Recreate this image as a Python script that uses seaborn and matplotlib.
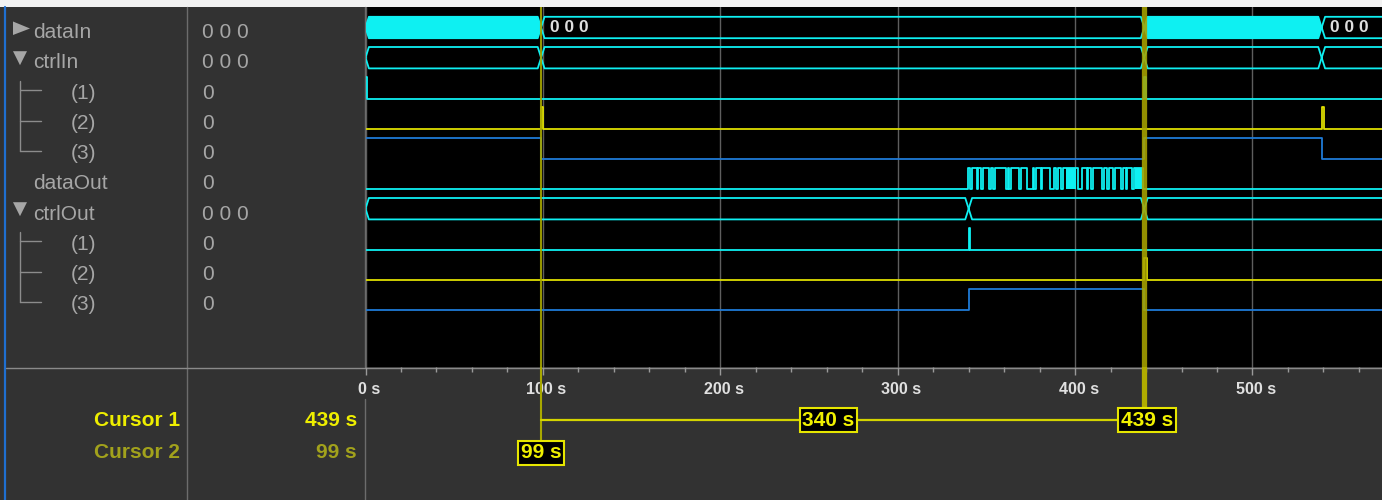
import seaborn as sns
import matplotlib.pyplot as plt
from matplotlib.patches import Rectangle, Polygon
from matplotlib.ticker import MultipleLocator

# signal list shown in the left panel
signal_names = ['dataIn', 'ctrlIn', '(1)', '(2)', '(3)',
                'dataOut', 'ctrlOut', '(1)', '(2)', '(3)']
signal_values = ['0 0 0', '0 0 0', '0', '0', '0', '0', '0 0 0', '0', '0', '0']
signal_depth = [0, 0, 1, 1, 1, 0, 0, 1, 1, 1]
signal_toggle = ['closed', 'open', '', '', '', '', 'open', '', '', '']

# time axis (seconds)
time_ticks = [0, 100, 200, 300, 400, 500]
time_end = 573

# waveforms
dataIn_changes = [0, 99, 439, 539]
dataIn_dense = [True, False, True, False]
dataIn_text = ['', '0 0 0', '', '0 0 0']

ctrlIn_changes = [0, 99, 439, 539]
ctrlIn1_pulses = [0, 439]
ctrlIn2_pulses = [99, 539]
ctrlIn3_times = [0, 99, 439, 539]
ctrlIn3_levels = [1, 0, 1, 0]

dataOut_high = [(339.5, 341.0), (342.0, 344.5), (345.5, 347.0), (348.0, 351.5),
                (352.5, 354.0), (355.0, 361.0), (362.0, 363.0), (364.0, 368.5),
                (369.5, 373.0), (376.0, 377.0), (378.0, 380.5), (381.5, 386.0),
                (388.0, 389.5), (390.5, 392.0), (393.0, 401.5), (404.0, 406.5),
                (407.5, 409.0), (410.0, 415.0), (416.5, 418.0), (419.0, 421.5),
                (422.5, 426.0), (427.0, 428.5), (429.5, 432.0), (433.0, 438.5)]
dataOut_dense = [(395.0, 400.5), (434.0, 437.5)]

ctrlOut_changes = [0, 340, 439]
ctrlOut1_pulses = [340]
ctrlOut2_pulses = [439]
ctrlOut3_times = [0, 340, 439]
ctrlOut3_levels = [0, 1, 0]

cursor1 = 439
cursor2 = 99

# ---------------------------------------------------------------
W, H = 1382, 500
X0, TOP, BOT = 365.5, 7, 367
HALF = 10.7
CYAN, YELLOW, BLUE = '#0ef0f2', '#dede00', '#1f7ad6'
GREY_TXT = '#a6a6a6'
BG = '#323232'

sns.set_style('dark')
plt.rcParams['font.family'] = ['Liberation Sans', 'DejaVu Sans']

row_y = [30 + 30.2 * i for i in range(len(signal_names))]


def frac(x0, y0, x1, y1):
    return [x0 / W, 1 - y1 / H, (x1 - x0) / W, (y1 - y0) / H]


fig = plt.figure(figsize=(W / 100, H / 100), dpi=100, facecolor=BG)

# chrome / left panel in pixel coordinates
bg = fig.add_axes([0, 0, 1, 1])
bg.set_xlim(0, W)
bg.set_ylim(H, 0)
bg.axis('off')
bg.add_patch(Rectangle((0, 0), W, 6.5, color='#f2f2f2', lw=0))
bg.plot([5.5, 5.5], [6.5, H], color='#1f6fd0', lw=1.6)
bg.plot([187, 187], [6.5, H], color='#6c6c6c', lw=1)
bg.plot([365, 365], [6.5, BOT], color='#6c6c6c', lw=1)
bg.plot([365, 365], [399, H], color='#6c6c6c', lw=1)
bg.plot([6, W], [368, 368], color='#8a8a8a', lw=1)

for i, (name, val) in enumerate(zip(signal_names, signal_values)):
    yb = row_y[i] + 8.3
    x = 33 if signal_depth[i] == 0 else 71
    bg.text(x, yb, name, fontsize=15, color=GREY_TXT, va='baseline')
    bg.text(202, yb, val, fontsize=15, color=GREY_TXT, va='baseline')
    yc = row_y[i] - 1.5
    if signal_toggle[i] == 'closed':
        bg.add_patch(Polygon([(13, yc - 7), (13, yc + 6.5), (30, yc)], color=GREY_TXT, lw=0))
    elif signal_toggle[i] == 'open':
        bg.add_patch(Polygon([(13, yc - 7.5), (27, yc - 7.5), (20, yc + 6.5)], color=GREY_TXT, lw=0))

# tree connectors for bus children
for parent in [i for i, t in enumerate(signal_toggle) if t == 'open']:
    kids = [j for j in range(parent + 1, len(signal_names)) if signal_depth[j] == 1]
    kids = [j for j in kids if all(signal_depth[k] == 1 for k in range(parent + 1, j + 1))]
    bg.plot([20, 20], [row_y[parent] + 21, row_y[kids[-1]]], color='#8c8c8c', lw=1)
    for j in kids:
        bg.plot([20, 41], [row_y[j], row_y[j]], color='#8c8c8c', lw=1)

bg.text(180, 420, 'Cursor 1', fontsize=15, fontweight='bold', color='#eeee00',
        ha='right', va='center')
bg.text(357, 420, f'{cursor1} s', fontsize=15, fontweight='bold', color='#eeee00',
        ha='right', va='center')
bg.text(180, 452, 'Cursor 2', fontsize=15, fontweight='bold', color='#a2a21c',
        ha='right', va='center')
bg.text(357, 452, f'{cursor2} s', fontsize=15, fontweight='bold', color='#a2a21c',
        ha='right', va='center')

# waveform area
ax = fig.add_axes(frac(X0, TOP, W, BOT))
ax.set_facecolor('black')
for s in ax.spines.values():
    s.set_visible(False)

d = 3.4 / ((W - X0) / time_end)  # half width of a bus crossing, in seconds


def draw_bus(row, changes, color, dense=None, texts=None):
    mid = row_y[row] - 2.5
    edges = list(changes) + [time_end + 10]
    for k in range(len(changes)):
        a, b = edges[k], edges[k + 1]
        xs = [a, a + d, b - d, b, b - d, a + d, a]
        ys = [mid, mid - HALF, mid - HALF, mid, mid + HALF, mid + HALF, mid]
        if dense is not None and dense[k]:
            ax.fill(xs, ys, color=color, lw=0, zorder=2)
        sns.lineplot(x=xs, y=ys, sort=False, estimator=None, color=color,
                     lw=1.3, ax=ax, zorder=2)
        if texts is not None and texts[k]:
            ax.text(a + 4.8, mid + 0.5, texts[k], fontsize=12.5, fontweight='bold',
                    color='#dedede', va='center', ha='left', zorder=4)


def draw_steps(row, times, levels, color):
    mid = row_y[row] - 2.5
    xs = list(times) + [time_end + 10]
    ys = [mid + HALF - 2 * HALF * lv for lv in levels]
    ys = ys + [ys[-1]]
    sns.lineplot(x=xs, y=ys, sort=False, estimator=None, color=color, lw=1.3,
                 drawstyle='steps-post', ax=ax, zorder=2)


def pulses_to_steps(pulses, width=1.0):
    times, levels = [], []
    if pulses[0] > 0:
        times, levels = [0], [0]
    for p in pulses:
        times += [p, p + width]
        levels += [1, 0]
    return times, levels


draw_bus(0, dataIn_changes, CYAN, dataIn_dense, dataIn_text)
draw_bus(1, ctrlIn_changes, CYAN)
draw_steps(2, *pulses_to_steps(ctrlIn1_pulses), CYAN)
draw_steps(3, *pulses_to_steps(ctrlIn2_pulses, 1.3), YELLOW)
draw_steps(4, ctrlIn3_times, ctrlIn3_levels, BLUE)

out_times, out_levels = [0], [0]
for a, b in dataOut_high:
    out_times += [a, b]
    out_levels += [1, 0]
draw_steps(5, out_times, out_levels, CYAN)
mid5 = row_y[5] - 2.5
for a, b in dataOut_dense:
    ax.fill_between([a, b], mid5 - HALF, mid5 + HALF, color=CYAN, lw=0, zorder=2)

draw_bus(6, ctrlOut_changes, CYAN)
draw_steps(7, *pulses_to_steps(ctrlOut1_pulses), CYAN)
draw_steps(8, *pulses_to_steps(ctrlOut2_pulses, 1.3), YELLOW)
draw_steps(9, ctrlOut3_times, ctrlOut3_levels, BLUE)

ax.set_xticks(time_ticks)
ax.tick_params(length=0, labelbottom=False, labelleft=False)
ax.grid(axis='x', color='#5e5e5e', lw=1)
ax.grid(axis='y', visible=False)
ax.set_yticks([])
ax.axvline(cursor2, color='#a8a800', lw=1.5, alpha=0.9, zorder=3)
ax.axvline(cursor1, color='#a8a400', lw=3.8, alpha=0.88, zorder=3)
ax.set_xlim(0, time_end)
ax.set_ylim(BOT, TOP)
ax.set_xlabel('')
ax.set_ylabel('')

# time ruler and cursor readouts
tl = fig.add_axes(frac(X0, BOT, W, H))
tl.set_facecolor('none')
for s in tl.spines.values():
    s.set_visible(False)
tl.set_xlim(0, time_end)
tl.set_ylim(H, BOT)
tl.xaxis.tick_top()
tl.set_xticks(time_ticks)
tl.xaxis.set_minor_locator(MultipleLocator(20))
tl.tick_params(axis='x', which='major', direction='in', length=6, width=1,
               color='#9a9a9a', labeltop=False)
tl.tick_params(axis='x', which='minor', direction='in', length=3.6, width=1,
               color='#9a9a9a', top=True)
tl.set_yticks([])
tl.grid(False)
for t in time_ticks:
    tl.text(t + 2, 390, f'{t} s', fontsize=11.5, fontweight='bold', color='#e0e0e0',
            ha='center', va='center')

tl.plot([cursor1, cursor1], [BOT, 407], color='#b0ac00', lw=3.8, zorder=3)
tl.plot([cursor2, cursor2], [BOT, 440], color='#a8a800', lw=1.5, zorder=3)
tl.plot([cursor2, cursor1], [420, 420], color='#d4d400', lw=1.6, zorder=3)

box = dict(boxstyle='square,pad=0.12', fc='black', ec='#e6e600', lw=1.5)
tl.text(cursor2, 452.5, f'{cursor2} s', fontsize=15, fontweight='bold',
        color='#f0f000', ha='center', va='center', bbox=box, zorder=5)
tl.text(cursor1 + 1.5, 420, f'{cursor1} s', fontsize=15, fontweight='bold',
        color='#f0f000', ha='center', va='center', bbox=box, zorder=5)
tl.text(261, 420, f'{cursor1 - cursor2} s', fontsize=15, fontweight='bold',
        color='#f0f000', ha='center', va='center', bbox=box, zorder=5)

fig.savefig('out.png', dpi=100, facecolor=BG)
